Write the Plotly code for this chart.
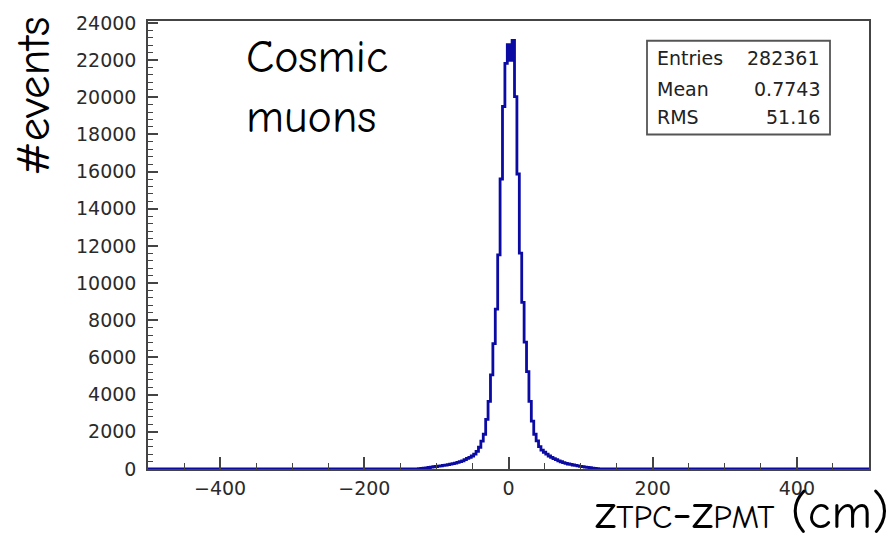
import plotly.graph_objects as go

# ---------------- data ----------------
BIN_WIDTH = 10.0 / 3.0          # cm, bins centred on multiples of 10/3
first_bin_index = -40
counts = [
    0, 0, 5, 15, 30, 45, 60, 80, 100, 120,             # k=-40..-31
    135, 150, 170, 190, 210, 230, 260, 290, 320, 360,  # k=-30..-21
    400, 440, 500, 570, 630, 700, 800, 950, 1170, 1500,  # k=-20..-11
    1870, 2670, 3640, 5060, 6740, 8600, 11520, 15600, 19500, 21820,  # k=-10..-1
    22830,                                              # k=0
    21980, 23050, 20030, 15870, 11610, 8960, 6830, 5240, 3640, 2580,  # k=1..10
    1870, 1515, 1200, 1020, 900, 800, 700, 630, 560, 500,   # k=11..20
    440, 390, 340, 300, 270, 245, 215, 190, 165, 145,       # k=21..30
    125, 105, 90, 70, 50, 30, 18, 10, 5, 0,                 # k=31..40
]
x_range = [-500, 500]
y_range = [0, 24100]
x_tick_step = 200
y_tick_step = 2000
stats_labels = ["Entries", "Mean", "RMS"]
stats_values = ["282361", "0.7743", "51.16"]

# ---------------- step-line construction ----------------
xs = [x_range[0]]
ys = [0]
for i, c in enumerate(counts):
    k = first_bin_index + i
    xs.append((k - 0.5) * BIN_WIDTH)
    ys.append(c)
k_last = first_bin_index + len(counts) - 1
xs.append((k_last + 0.5) * BIN_WIDTH)
ys.append(0)
xs.append(x_range[1])
ys.append(0)

W, H = 892, 536
L, R, T, B = 148, 23, 15, 67
PW, PH = W - L - R, H - T - B


def px(x):
    return (x - L) / PW


def py(y):
    return (H - B - y) / PH


fig = go.Figure()
fig.add_trace(go.Scatter(
    x=xs, y=ys, mode="lines",
    line=dict(shape="hv", color="#0b0ba3", width=2.8),
    hoverinfo="skip", showlegend=False,
))

tick_font = dict(family="DejaVu Sans", size=19, color="#2a2a2a")
axis_col = "#444444"

fig.update_layout(
    width=W, height=H,
    margin=dict(l=L, r=R, t=T, b=B, pad=0),
    paper_bgcolor="white", plot_bgcolor="white",
    showlegend=False,
    xaxis=dict(
        range=x_range, showgrid=False, zeroline=False,
        showline=True, linecolor=axis_col, linewidth=1.5, mirror=True,
        ticks="inside", ticklen=12, tickwidth=1.5, tickcolor=axis_col,
        tick0=0, dtick=x_tick_step, tickfont=tick_font, tickformat="d",
        minor=dict(ticks="inside", ticklen=6, dtick=50, tick0=0,
                   tickcolor=axis_col, tickwidth=1.2),
        ticklabelstandoff=1,
    ),
    yaxis=dict(
        range=y_range, showgrid=False, zeroline=False,
        showline=True, linecolor=axis_col, linewidth=1.5, mirror=True,
        ticks="inside", ticklen=10, tickwidth=1.5, tickcolor=axis_col,
        tick0=0, dtick=y_tick_step, tickfont=tick_font, tickformat="d",
        minor=dict(ticks="inside", ticklen=5, dtick=400, tick0=0,
                   tickcolor=axis_col, tickwidth=1.2),
        ticklabelstandoff=6,
    ),
)

# stats box
fig.add_shape(type="rect", xref="paper", yref="paper",
              x0=px(647), x1=px(830), y0=py(130), y1=py(35),
              line=dict(color="#555555", width=1.8), fillcolor="white", layer="above")
row_y = [52.5, 84, 112.5]
for lab, val, ry in zip(stats_labels, stats_values, row_y):
    fig.add_annotation(xref="paper", yref="paper", x=px(655), y=py(ry),
                       text=lab, showarrow=False, xanchor="left", yanchor="middle",
                       font=dict(family="DejaVu Sans", size=19, color="#222222"))
    fig.add_annotation(xref="paper", yref="paper", x=px(822), y=py(ry),
                       text=val, showarrow=False, xanchor="right", yanchor="middle",
                       font=dict(family="DejaVu Sans", size=19, color="#222222"))

hand_font = "Comic Neue, Comic Sans MS, DejaVu Sans"

# y title
fig.add_annotation(xref="paper", yref="paper", x=px(34), y=py(91),
                   text="#events", textangle=-90, showarrow=False,
                   xanchor="center", yanchor="middle",
                   font=dict(family=hand_font, size=47, color="black"))

# "Cosmic muons"
fig.add_annotation(xref="paper", yref="paper", x=px(244), y=py(82),
                   text="Cosmic<br>muons", showarrow=False, align="left",
                   xanchor="left", yanchor="middle",
                   font=dict(family=hand_font, size=46, color="black"))

# x title
fig.add_annotation(xref="paper", yref="paper", x=px(891), y=py(513),
                   text="z<span style='font-size:33px'>TPC</span>-z"
                        "<span style='font-size:33px'>PMT</span> (cm)",
                   showarrow=False, xanchor="right", yanchor="middle",
                   font=dict(family=hand_font, size=49, color="black"))

fig.write_html("out.html")
